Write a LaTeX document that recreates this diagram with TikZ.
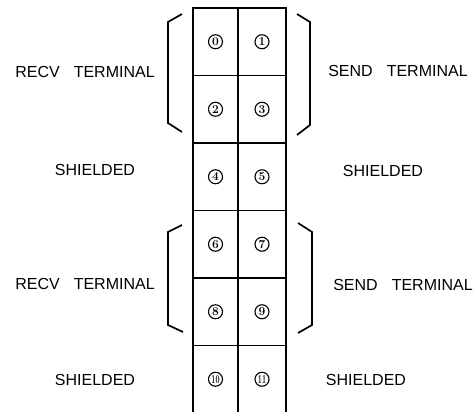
\documentclass[tikz,border=0pt]{standalone}
\usepackage{fontspec}
\setsansfont{Liberation Sans}
\usepackage{tikz}
\usetikzlibrary{positioning}

\begin{document}
\begin{tikzpicture}[x=1pt, y=-1pt,
  cell/.style={rectangle, draw, line width=1.8pt, outer sep=0pt,
               minimum height=67.5pt},
  lcol/.style={cell, minimum width=45pt},
  rcol/.style={cell, minimum width=48pt},
  opencell/.style={rectangle, outer sep=0pt, minimum height=67.5pt},
  num/.style={circle, draw, line width=1.1pt, inner sep=0pt,
              minimum size=14pt, font=\bfseries\fontsize{12}{12}\selectfont},
  lbl/.style={inner sep=0pt, font=\sffamily\fontsize{16}{16}\selectfont},
  brk/.style={line width=1.7pt},
  node distance=0pt
]
  \useasboundingbox (0,0) rectangle (475,412);

  % connector block
  \node[lcol] (c0) at (215.5,41.75) {};
  \node[rcol, right=of c0] (c1) {};
  \node[lcol, below=of c0] (c2) {};
  \node[rcol, below=of c1] (c3) {};
  \node[lcol, below=of c2] (c4) {};
  \node[rcol, below=of c3] (c5) {};
  \node[lcol, below=of c4] (c6) {};
  \node[rcol, below=of c5] (c7) {};
  \node[lcol, below=of c6] (c8) {};
  \node[rcol, below=of c7] (c9) {};
  \node[opencell, minimum width=45pt, below=of c8] (c10) {};
  \node[opencell, minimum width=48pt, below=of c9] (c11) {};
  \draw[line width=1.8pt] (c10.north west) -- (c10.south west);
  \draw[line width=1.8pt] (c10.north east) -- (c10.south east);
  \draw[line width=1.8pt] (c11.north east) -- (c11.south east);

  % pin numbers
  \foreach \i in {0,...,9}
    \node[num] (n\i) at (c\i) {\i};
  \node[num] (n10) at (c10) {\scalebox{0.6}[1]{10}};
  \node[num] (n11) at (c11) {\scalebox{0.6}[1]{11}};

  % brackets
  \draw[brk] ([shift={(-11,6)}]c0.north west) -- ++(-14,8) -- ++(0,101) -- ++(14,9);
  \draw[brk] ([shift={(11,6)}]c1.north east) -- ++(13,8) -- ++(0,103) -- ++(-13,10);
  \draw[brk] ([shift={(-11,14.5)}]c6.north west) -- ++(-14,7) -- ++(0,93) -- ++(15,7);
  \draw[brk] ([shift={(12,12.5)}]c7.north east) -- ++(14,9) -- ++(0,93) -- ++(-14,8);

  % labels
  \node[lbl] (recv1) at (85,72) {RECV\hspace{14pt}TERMINAL};
  \node[lbl] (send1) at (398,71) {SEND\hspace{14pt}TERMINAL};
  \node[lbl] (shl1) at (95,170) {SHIELDED};
  \node[lbl] (shr1) at (383,171) {SHIELDED};
  \node[lbl] (recv2) at (85,284) {RECV\hspace{14pt}TERMINAL};
  \node[lbl] (send2) at (403,285) {SEND\hspace{14pt}TERMINAL};
  \node[lbl] (shl2) at (95,380) {SHIELDED};
  \node[lbl] (shr2) at (366,380) {SHIELDED};
\end{tikzpicture}
\end{document}
